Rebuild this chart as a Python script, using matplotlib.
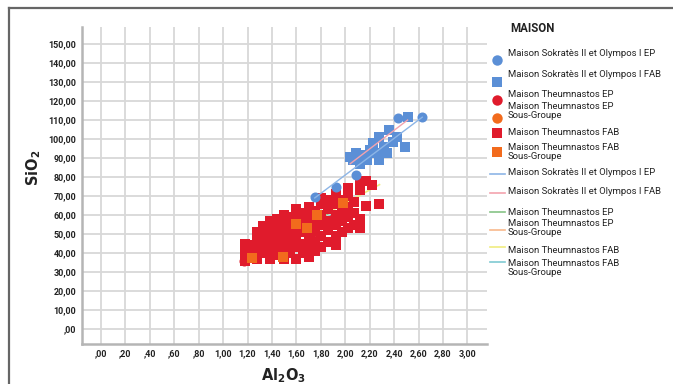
import numpy as np
import matplotlib
matplotlib.use("Agg")
import matplotlib.pyplot as plt
from matplotlib.lines import Line2D

plt.rcParams['font.family'] = ['Roboto', 'DejaVu Sans']

# Al2O3 / SiO2 per group
sok_ep_x = [1.75, 1.92, 2.09, 2.43, 2.63]
sok_ep_y = [69.5, 75, 81, 111, 111.6]

sok_fab_x = [2.51, 2.36, 2.42, 2.28, 2.49, 2.23, 2.32, 2.26, 2.14, 2.09,
             2.06, 2.18, 2.28, 2.12, 2.04, 2.34, 2.39, 2.20]
sok_fab_y = [111.6, 104.7, 101, 101, 96, 98, 96, 92.6, 91.6, 92.6,
             89, 89, 89, 87, 90.5, 92.6, 98.4, 94]

the_ep_x = [1.17, 1.35, 1.55, 1.72, 1.90]
the_ep_y = [36, 43, 46, 50, 58]

the_ep_sg_x = [1.50, 1.70]
the_ep_sg_y = [45, 52]

the_fab_x = ([1.18] * 4 + [1.24] * 2 + [1.28] * 4 + [1.33] * 4 + [1.38] * 5 +
             [1.44] * 5 + [1.50] * 6 + [1.55] * 5 + [1.60] * 6 + [1.65] * 5 +
             [1.70] * 6 + [1.75] * 5 + [1.80] * 6 + [1.86] * 5 + [1.92] * 6 +
             [1.97] * 4 + [2.02] * 5 + [2.07] * 3 + [2.12] * 4 + [2.17] * 2 +
             [2.22, 2.28])
the_fab_y = [37, 41, 45, 36,
             39, 44,
             37, 42, 47, 51,
             40, 45, 50, 54,
             37, 42, 47, 52, 57,
             39, 44, 49, 54, 58,
             37, 42, 47, 52, 57, 60,
             40, 45, 50, 55, 59,
             37, 43, 48, 53, 58, 63,
             40, 45, 51, 56, 61,
             38, 43, 48, 54, 59, 64,
             41, 46, 52, 57, 62,
             43, 49, 55, 60, 66, 69,
             46, 52, 57, 63, 68,
             44, 49, 55, 60, 66, 71,
             51, 57, 62, 68,
             53, 59, 64, 70, 74,
             55, 61, 67,
             53, 58, 73, 77,
             65, 78,
             76, 66]

the_fab_sg_x = [1.24, 1.49, 1.60, 1.69, 1.77, 1.98]
the_fab_sg_y = [37.5, 38, 55.5, 53, 60, 66.5]

# fit lines (end points)
fit_sok_ep = ([1.75, 2.63], [69, 111.5])
fit_sok_fab = ([2.04, 2.51], [87, 110])
fit_the_ep = ([1.17, 1.90], [37, 62])
fit_the_ep_sg = ([1.50, 1.70], [45, 52])
fit_the_fab = ([1.16, 2.28], [37, 76])
fit_the_fab_sg = ([1.24, 1.98], [40, 63])

blue = '#5b8fd6'
red = '#e01b2c'
orange = '#f26b1d'
ink = '#222222'

fig = plt.figure(figsize=(6.73, 3.84), dpi=100)
W, H = 673, 384

# outer frame
fig.add_artist(Line2D([9 / W, 1.0], [1 - 8 / H, 1 - 8 / H], color='#666666', lw=1.6))
fig.add_artist(Line2D([9 / W, 9 / W], [0.0, 1 - 8 / H], color='#666666', lw=1.6))

ax = fig.add_axes([82 / W, 1 - 344 / H, (487 - 82) / W, (344 - 27) / H])
ax.set_xlim(-0.155, 3.16)
ax.set_ylim(-7.9, 159)

xt = np.round(np.arange(0, 3.01, 0.2), 2)
yt = np.arange(0, 151, 10)


def fmt(v):
    s = f"{v:.2f}".replace('.', ',')
    return s[1:] if s.startswith('0,') else s


ax.set_xticks(xt)
ax.set_xticklabels([fmt(v) for v in xt])
ax.set_yticks(yt)
ax.set_yticklabels([fmt(v) for v in yt])
ax.tick_params(length=0, labelsize=6.5, colors=ink)
ax.tick_params(axis='y', pad=4)
ax.tick_params(axis='x', pad=4)
for lab in ax.get_xticklabels() + ax.get_yticklabels():
    lab.set_fontweight('bold')
ax.grid(True, color='#d8d8d8', lw=1.3)
ax.set_axisbelow(True)
for s in ['top', 'right']:
    ax.spines[s].set_visible(False)
for s in ['left', 'bottom']:
    ax.spines[s].set_color('#b5b5b5')
    ax.spines[s].set_linewidth(1.8)

# fit lines under the Theumnastos markers
ax.plot(*fit_the_ep, color='#86c486', lw=1, zorder=2)
ax.plot(*fit_the_ep_sg, color='#f8b98c', lw=1, zorder=2)
ax.plot(*fit_the_fab, color='#f0ec80', lw=1.2, zorder=2)
ax.plot(*fit_the_fab_sg, color='#7fc9d2', lw=1, zorder=2)

ms = 52
ax.scatter(the_ep_x, the_ep_y, s=ms, marker='o', color=red, lw=0, zorder=3)
ax.scatter(the_ep_sg_x, the_ep_sg_y, s=ms, marker='o', color=orange, lw=0, zorder=3)
ax.scatter(the_fab_x, the_fab_y, s=ms, marker='s', color=red, lw=0, zorder=3)
ax.scatter(the_fab_sg_x, the_fab_sg_y, s=ms, marker='s', color=orange, lw=0, zorder=3)
ax.scatter(sok_fab_x, sok_fab_y, s=ms, marker='s', color=blue, lw=0, zorder=3)
ax.scatter(sok_ep_x, sok_ep_y, s=ms, marker='o', color=blue, lw=0, zorder=3)

ax.plot(*fit_sok_ep, color='#8db5e6', lw=1, zorder=4)
ax.plot(*fit_sok_fab, color='#f3a3ae', lw=1, zorder=4)

fig.text(34 / W, 1 - 168 / H, r'$\mathbf{SiO_2}$', rotation=90,
         ha='center', va='center', fontsize=10.5, color=ink)
fig.text(283 / W, 1 - 376 / H, r'$\mathbf{Al_2O_3}$', ha='center', va='center',
         fontsize=10.5, color=ink)

# legend
fig.text(510 / W, 1 - 29 / H, 'MAISON', fontsize=8.3, fontweight='bold',
         ha='left', va='center', color=ink)

legend_kind = ['o', 's', 'o', 'o', 's', 's', '-', '-', '-', '-', '-', '-']
legend_color = [blue, blue, red, orange, red, orange,
                '#8db5e6', '#f3a3ae', '#86c486', '#f8b98c', '#f0ec80', '#7fc9d2']
legend_label = ['Maison Sokratès II et Olympos I EP',
                'Maison Sokratès II et Olympos I FAB',
                'Maison Theumnastos EP',
                'Maison Theumnastos EP\nSous-Groupe',
                'Maison Theumnastos FAB',
                'Maison Theumnastos FAB\nSous-Groupe',
                'Maison Sokratès II et Olympos I EP',
                'Maison Sokratès II et Olympos I FAB',
                'Maison Theumnastos EP',
                'Maison Theumnastos EP\nSous-Groupe',
                'Maison Theumnastos FAB',
                'Maison Theumnastos FAB\nSous-Groupe']
handle_y = [60, 82, 100, 118, 133, 152, 174, 193, 212, 230, 247, 262]
text_y = [54, 75, 95, 107, 133, 148, 173, 192, 213, 224, 251, 264]

for kind, col, lab, hy, ty in zip(legend_kind, legend_color, legend_label, handle_y, text_y):
    if kind == '-':
        fig.add_artist(Line2D([490 / W, 505 / W], [1 - hy / H] * 2, color=col, lw=1.2))
    else:
        fig.add_artist(Line2D([497 / W], [1 - hy / H], marker=kind, ms=7.5, color=col,
                              markeredgewidth=0, linestyle='None'))
    fig.text(508 / W, 1 - (ty - 5) / H, lab, fontsize=6.8, ha='left', va='top',
             color=ink, linespacing=1.05)

fig.savefig('out.png', dpi=100)
